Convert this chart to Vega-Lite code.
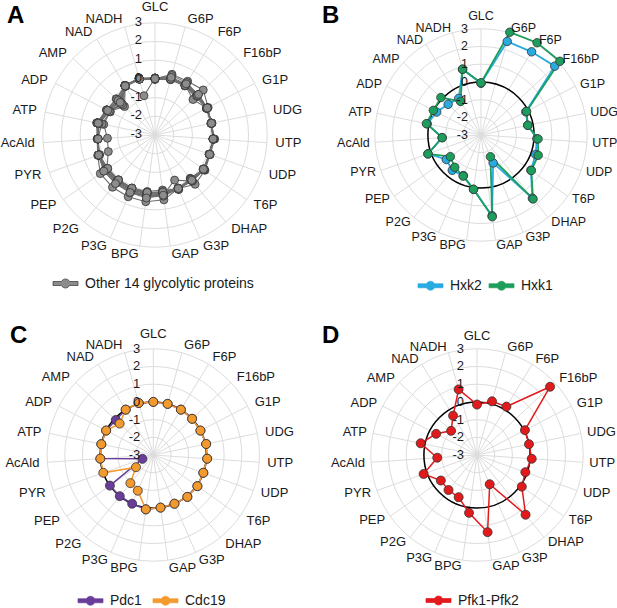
{
"$schema":"https://vega.github.io/schema/vega-lite/v6.json",
"autosize":{"type":"pad"},
"padding":0,
"datasets":{
"mets":[{"m":"GLC"},{"m":"G6P"},{"m":"F6P"},{"m":"F16bP"},{"m":"G1P"},{"m":"UDG"},{"m":"UTP"},{"m":"UDP"},{"m":"T6P"},{"m":"DHAP"},{"m":"G3P"},{"m":"GAP"},{"m":"BPG"},{"m":"P3G"},{"m":"P2G"},{"m":"PEP"},{"m":"PYR"},{"m":"AcAld"},{"m":"ATP"},{"m":"ADP"},{"m":"AMP"},{"m":"NAD"},{"m":"NADH"}],
"grid":[{"level":-3},{"level":-2},{"level":-1},{"level":0},{"level":1},{"level":2},{"level":3}],
"A":[
{"p":"P1","GLC":0.05,"G6P":0.1,"F6P":0.12,"F16bP":0.15,"G1P":0.14,"UDG":0.09,"UTP":0.13,"UDP":0.09,"T6P":0.19,"DHAP":-0.02,"G3P":0.18,"GAP":-0.03,"BPG":0.05,"P3G":0.09,"P2G":0.09,"PEP":0.13,"PYR":0.2,"AcAld":0.07,"ATP":0.18,"ADP":-0.08,"AMP":-0.16,"NAD":0.09,"NADH":0.16},
{"p":"P2","GLC":0,"G6P":0.37,"F6P":0.36,"F16bP":0.53,"G1P":0.2,"UDG":0.05,"UTP":0.2,"UDP":0.13,"T6P":0.27,"DHAP":0.4,"G3P":0.12,"GAP":0.5,"BPG":0.6,"P3G":0.6,"P2G":0.6,"PEP":0.58,"PYR":0.25,"AcAld":0.1,"ATP":0.15,"ADP":-0.1,"AMP":-0.3,"NAD":0.05,"NADH":0.1},
{"p":"P3","GLC":0.03,"G6P":0.12,"F6P":0.1,"F16bP":0.1,"G1P":0.1,"UDG":0.1,"UTP":0.12,"UDP":0.08,"T6P":0.2,"DHAP":0.18,"G3P":-0.37,"GAP":0.24,"BPG":0.3,"P3G":0.37,"P2G":0.3,"PEP":0.34,"PYR":0.2,"AcAld":0.05,"ATP":0.1,"ADP":-0.2,"AMP":-0.35,"NAD":0.1,"NADH":0.12},
{"p":"P4","GLC":-0.02,"G6P":0.08,"F6P":0.08,"F16bP":-0.03,"G1P":0.12,"UDG":0.08,"UTP":0.1,"UDP":0.1,"T6P":0.15,"DHAP":0.03,"G3P":0.1,"GAP":0.1,"BPG":0.1,"P3G":0.15,"P2G":0.15,"PEP":0.15,"PYR":-0.35,"AcAld":-0.45,"ATP":-0.2,"ADP":-0.3,"AMP":-0.55,"NAD":0.08,"NADH":0.15},
{"p":"P5","GLC":0.05,"G6P":0.15,"F6P":0.15,"F16bP":0.12,"G1P":0.15,"UDG":0.09,"UTP":0.13,"UDP":0.09,"T6P":0.19,"DHAP":0.1,"G3P":0.15,"GAP":0.15,"BPG":0.2,"P3G":0.19,"P2G":0.2,"PEP":0.2,"PYR":0.2,"AcAld":0.07,"ATP":0.18,"ADP":-0.1,"AMP":-0.45,"NAD":0.05,"NADH":-0.82},
{"p":"P6","GLC":0.02,"G6P":0.1,"F6P":0.1,"F16bP":0.1,"G1P":0.12,"UDG":0.1,"UTP":0.15,"UDP":0.07,"T6P":0.22,"DHAP":0.15,"G3P":0.12,"GAP":0.2,"BPG":0.25,"P3G":0.25,"P2G":0.25,"PEP":0.25,"PYR":0.18,"AcAld":0.05,"ATP":0.12,"ADP":-0.15,"AMP":-0.6,"NAD":0.1,"NADH":0.12},
{"p":"P7","GLC":0,"G6P":0.3,"F6P":0.28,"F16bP":0.15,"G1P":0.1,"UDG":0.06,"UTP":0.12,"UDP":0.1,"T6P":0.18,"DHAP":0.05,"G3P":0.1,"GAP":0.05,"BPG":0.15,"P3G":0.1,"P2G":0.1,"PEP":0.1,"PYR":0.15,"AcAld":0.08,"ATP":0.05,"ADP":-0.25,"AMP":-0.77,"NAD":0.07,"NADH":0.1},
{"p":"P8","GLC":0.04,"G6P":0.12,"F6P":0.12,"F16bP":-0.22,"G1P":0.13,"UDG":0.09,"UTP":0.1,"UDP":0.09,"T6P":0.2,"DHAP":0.12,"G3P":0.14,"GAP":0.3,"BPG":0.35,"P3G":0.3,"P2G":0.3,"PEP":0.3,"PYR":0.22,"AcAld":0.06,"ATP":0.15,"ADP":-0.1,"AMP":-0.2,"NAD":0.09,"NADH":0.14},
{"p":"P9","GLC":-0.03,"G6P":0.1,"F6P":0.1,"F16bP":0.1,"G1P":0.14,"UDG":0.1,"UTP":0.14,"UDP":0.08,"T6P":0.16,"DHAP":0.1,"G3P":0.12,"GAP":0.1,"BPG":0.1,"P3G":0.12,"P2G":0.12,"PEP":0.12,"PYR":0.2,"AcAld":0.07,"ATP":-0.1,"ADP":-0.3,"AMP":-0.5,"NAD":0.05,"NADH":0.15},
{"p":"P10","GLC":0.05,"G6P":0.14,"F6P":0.14,"F16bP":0.14,"G1P":0.12,"UDG":0.08,"UTP":0.13,"UDP":0.1,"T6P":0.19,"DHAP":0.08,"G3P":0.1,"GAP":0.12,"BPG":0.15,"P3G":0.2,"P2G":0.2,"PEP":0.2,"PYR":0.18,"AcAld":0.05,"ATP":0.12,"ADP":-0.15,"AMP":-0.4,"NAD":0.1,"NADH":0.12},
{"p":"P11","GLC":0.02,"G6P":0.08,"F6P":0.08,"F16bP":0.05,"G1P":0.1,"UDG":0.09,"UTP":0.12,"UDP":0.09,"T6P":0.21,"DHAP":0.15,"G3P":0.13,"GAP":0.2,"BPG":0.2,"P3G":0.15,"P2G":0.15,"PEP":0.15,"PYR":0.2,"AcAld":0.08,"ATP":0.1,"ADP":-0.2,"AMP":-0.65,"NAD":0.08,"NADH":0.1},
{"p":"P12","GLC":0,"G6P":0.12,"F6P":0.12,"F16bP":0.12,"G1P":0.14,"UDG":0.07,"UTP":0.15,"UDP":0.11,"T6P":0.18,"DHAP":0.1,"G3P":0.15,"GAP":0.15,"BPG":0.3,"P3G":0.25,"P2G":0.25,"PEP":0.25,"PYR":0.15,"AcAld":0.06,"ATP":0.15,"ADP":-0.1,"AMP":-0.3,"NAD":0.06,"NADH":0.14},
{"p":"P13","GLC":0.03,"G6P":0.1,"F6P":0.1,"F16bP":0.1,"G1P":0.12,"UDG":0.1,"UTP":0.13,"UDP":0.08,"T6P":0.2,"DHAP":0.05,"G3P":0.11,"GAP":0.08,"BPG":0.1,"P3G":0.1,"P2G":0.1,"PEP":0.1,"PYR":0.2,"AcAld":0.07,"ATP":0.05,"ADP":-0.25,"AMP":-0.55,"NAD":0.1,"NADH":0.12},
{"p":"P14","GLC":0.01,"G6P":0.2,"F6P":0.2,"F16bP":0.18,"G1P":0.15,"UDG":0.08,"UTP":0.11,"UDP":0.1,"T6P":0.17,"DHAP":0.12,"G3P":0.12,"GAP":0.25,"BPG":0.4,"P3G":0.35,"P2G":0.35,"PEP":0.35,"PYR":0.2,"AcAld":0.05,"ATP":0.1,"ADP":-0.15,"AMP":-0.45,"NAD":0.07,"NADH":0.1}
],
"B":[
{"s":"Hxk2","GLC":-0.08,"G6P":2.49,"F6P":2.5,"F16bP":2.7,"G1P":-0.15,"UDG":-0.3,"UTP":0.16,"UDP":0.28,"T6P":0.45,"DHAP":1.6,"G3P":-1.28,"GAP":1.6,"BPG":0.1,"P3G":-0.5,"P2G":-0.43,"PEP":-0.6,"PYR":0.18,"AcAld":-0.8,"ATP":0.1,"ADP":-0.18,"AMP":-0.46,"NAD":-0.58,"NADH":0.86},
{"s":"Hxk1","GLC":-0.05,"G6P":3.03,"F6P":3.1,"F16bP":3.1,"G1P":-0.1,"UDG":-0.3,"UTP":0.23,"UDP":0.43,"T6P":0.48,"DHAP":1.66,"G3P":-1.66,"GAP":1.66,"BPG":0.1,"P3G":-0.47,"P2G":-0.65,"PEP":-0.88,"PYR":0.18,"AcAld":-0.8,"ATP":0.15,"ADP":0.03,"AMP":0.1,"NAD":-0.78,"NADH":0.86}
],
"C":[
{"s":"Pdc1","GLC":0,"G6P":0,"F6P":0,"F16bP":0,"G1P":0,"UDG":0.05,"UTP":0.05,"UDP":0,"T6P":0.05,"DHAP":0.05,"G3P":0,"GAP":0,"BPG":0.1,"P3G":0,"P2G":0,"PEP":0,"PYR":-2.35,"AcAld":0,"ATP":0,"ADP":0,"AMP":-0.1,"NAD":0,"NADH":0.05},
{"s":"Cdc19","GLC":0,"G6P":0,"F6P":0,"F16bP":0,"G1P":0,"UDG":0.05,"UTP":0.05,"UDP":0,"T6P":0.05,"DHAP":0.05,"G3P":0,"GAP":0,"BPG":0.1,"P3G":-0.8,"P2G":-0.95,"PEP":-1.8,"PYR":0,"AcAld":0,"ATP":0,"ADP":0,"AMP":-0.4,"NAD":0,"NADH":0.05}
],
"D":[
{"s":"Pfk1-Pfk2","GLC":-0.15,"G6P":0.15,"F6P":0.2,"F16bP":2.65,"G1P":0.05,"UDG":0,"UTP":0.1,"UDP":-0.1,"T6P":0.1,"DHAP":1.35,"G3P":-1.2,"GAP":1.4,"BPG":0.3,"P3G":-0.4,"P2G":-0.45,"PEP":-0.5,"PYR":0.2,"AcAld":-0.75,"ATP":0.25,"ADP":-0.4,"AMP":-1.0,"NAD":-0.4,"NADH":0.85}
]
},
"vconcat":[
{"hconcat":[
{"title":{"text":"A","dx":7},"width":305,"height":270,
"encoding":{"x":{"field":"x","type":"quantitative","scale":{"domain":[-8.289,8.021],"nice":false,"zero":false},"axis":null},"y":{"field":"y","type":"quantitative","scale":{"domain":[-7.219,7.219],"nice":false,"zero":false},"axis":null}},
"layer":[
{"data":{"name":"grid"},"transform":[{"filter":"datum.level > -3"},{"calculate":"datum.level+3","as":"u"},{"calculate":"0","as":"x"},{"calculate":"0","as":"y"}],"mark":{"type":"point","shape":"circle","filled":false,"stroke":"#dcdcdc","strokeWidth":1,"opacity":1},"encoding":{"size":{"field":"u","type":"quantitative","scale":{"type":"pow","exponent":2,"domain":[0,6],"range":[0,50355]},"legend":null}}},
{"data":{"name":"mets"},"transform":[{"window":[{"op":"row_number","as":"rn"}]},{"calculate":"(datum.rn-1)*2*PI/23","as":"t"},{"calculate":"0","as":"x"},{"calculate":"0","as":"y"},{"calculate":"6*sin(datum.t)","as":"x2"},{"calculate":"6*cos(datum.t)","as":"y2"}],"mark":{"type":"rule","stroke":"#dcdcdc","strokeWidth":1},"encoding":{"x2":{"field":"x2"},"y2":{"field":"y2"}}},
{"data":{"name":"A"},"transform":[{"fold":["GLC","G6P","F6P","F16bP","G1P","UDG","UTP","UDP","T6P","DHAP","G3P","GAP","BPG","P3G","P2G","PEP","PYR","AcAld","ATP","ADP","AMP","NAD","NADH"],"as":["m","v"]},{"calculate":"indexof(['GLC','G6P','F6P','F16bP','G1P','UDG','UTP','UDP','T6P','DHAP','G3P','GAP','BPG','P3G','P2G','PEP','PYR','AcAld','ATP','ADP','AMP','NAD','NADH'], datum.m)","as":"i"},{"calculate":"(datum.v+3)*sin(datum.i*2*PI/23)","as":"x"},{"calculate":"(datum.v+3)*cos(datum.i*2*PI/23)","as":"y"}],
"layer":[
{"mark":{"type":"line","interpolate":"linear-closed","strokeWidth":1.1,"color":"#6e6e6e"},"encoding":{"detail":{"field":"p"},"order":{"field":"i","type":"quantitative"}}},
{"mark":{"type":"point","shape":"circle","filled":true,"size":64,"stroke":"#333","strokeWidth":0.8,"opacity":1},"encoding":{"color":{"datum":"Other 14 glycolytic proteins","type":"nominal","scale":{"range":["#8c8c8c"]},"legend":{"orient":"none","legendX":55,"legendY":273}}}}
]},
{"data":{"name":"mets"},"transform":[{"window":[{"op":"row_number","as":"rn"}]},{"calculate":"(datum.rn-1)*2*PI/23","as":"t"},{"calculate":"6.45*sin(datum.t)","as":"x"},{"calculate":"6.45*cos(datum.t)","as":"y"}],
"layer":[
{"transform":[{"filter":"sin(datum.t) > 0.05"}],"mark":{"type":"text","align":"left","baseline":"middle","fontSize":13,"font":"Liberation Sans","color":"#1a1a1a"},"encoding":{"text":{"field":"m"}}},
{"transform":[{"filter":"sin(datum.t) < -0.05"}],"mark":{"type":"text","align":"right","baseline":"middle","fontSize":13,"font":"Liberation Sans","color":"#1a1a1a"},"encoding":{"text":{"field":"m"}}},
{"transform":[{"filter":"abs(sin(datum.t)) <= 0.05"}],"mark":{"type":"text","align":"center","baseline":"bottom","fontSize":13,"font":"Liberation Sans","color":"#1a1a1a"},"encoding":{"text":{"field":"m"}}}
]},
{"data":{"name":"grid"},"transform":[{"calculate":"datum.level+3","as":"y"},{"calculate":"0","as":"x"}],"mark":{"type":"text","align":"right","baseline":"middle","dx":-13,"dy":-1,"fontSize":13,"font":"Liberation Sans","color":"#1a1a1a"},"encoding":{"text":{"field":"level","type":"nominal"}}}
]},
{"title":{"text":"B","dx":-4},"width":295,"height":270,
"encoding":{"x":{"field":"x","type":"quantitative","scale":{"domain":[-8.757,7.910],"nice":false,"zero":false},"axis":null},"y":{"field":"y","type":"quantitative","scale":{"domain":[-7.627,7.627],"nice":false,"zero":false},"axis":null}},
"layer":[
{"data":{"name":"grid"},"transform":[{"filter":"datum.level > -3"},{"calculate":"datum.level+3","as":"u"},{"calculate":"0","as":"x"},{"calculate":"0","as":"y"}],"mark":{"type":"point","shape":"circle","filled":false,"stroke":"#dcdcdc","strokeWidth":1,"opacity":1},"encoding":{"size":{"field":"u","type":"quantitative","scale":{"type":"pow","exponent":2,"domain":[0,6],"range":[0,45114]},"legend":null}}},
{"data":{"name":"mets"},"transform":[{"window":[{"op":"row_number","as":"rn"}]},{"calculate":"(datum.rn-1)*2*PI/23","as":"t"},{"calculate":"0","as":"x"},{"calculate":"0","as":"y"},{"calculate":"6*sin(datum.t)","as":"x2"},{"calculate":"6*cos(datum.t)","as":"y2"}],"mark":{"type":"rule","stroke":"#dcdcdc","strokeWidth":1},"encoding":{"x2":{"field":"x2"},"y2":{"field":"y2"}}},
{"data":{"values":[{"level":0}]},"transform":[{"calculate":"datum.level+3","as":"u"},{"calculate":"0","as":"x"},{"calculate":"0","as":"y"}],"mark":{"type":"point","shape":"circle","filled":false,"stroke":"#000","strokeWidth":1.5,"opacity":1},"encoding":{"size":{"field":"u","type":"quantitative","scale":{"type":"pow","exponent":2,"domain":[0,6],"range":[0,45114]},"legend":null}}},
{"data":{"name":"B"},"transform":[{"fold":["GLC","G6P","F6P","F16bP","G1P","UDG","UTP","UDP","T6P","DHAP","G3P","GAP","BPG","P3G","P2G","PEP","PYR","AcAld","ATP","ADP","AMP","NAD","NADH"],"as":["m","v"]},{"calculate":"indexof(['GLC','G6P','F6P','F16bP','G1P','UDG','UTP','UDP','T6P','DHAP','G3P','GAP','BPG','P3G','P2G','PEP','PYR','AcAld','ATP','ADP','AMP','NAD','NADH'], datum.m)","as":"i"},{"calculate":"(datum.v+3)*sin(datum.i*2*PI/23)","as":"x"},{"calculate":"(datum.v+3)*cos(datum.i*2*PI/23)","as":"y"}],
"layer":[
{"mark":{"type":"line","interpolate":"linear-closed","strokeWidth":1.8},"encoding":{"color":{"field":"s","type":"nominal","scale":{"domain":["Hxk2","Hxk1"],"range":["#29ABE2","#1E9E5C"]},"legend":{"orient":"none","legendX":94,"legendY":275,"columnPadding":5}},"order":{"field":"i","type":"quantitative"}}},
{"mark":{"type":"point","shape":"circle","filled":true,"size":72,"stroke":"#333","strokeWidth":0.8,"opacity":1},"encoding":{"color":{"field":"s","type":"nominal","scale":{"domain":["Hxk2","Hxk1"],"range":["#29ABE2","#1E9E5C"]},"legend":{"orient":"none","legendX":94,"legendY":275,"columnPadding":5}}}}
]},
{"data":{"name":"mets"},"transform":[{"window":[{"op":"row_number","as":"rn"}]},{"calculate":"(datum.rn-1)*2*PI/23","as":"t"},{"calculate":"6.3*sin(datum.t)","as":"x"},{"calculate":"6.3*cos(datum.t)","as":"y"}],
"layer":[
{"transform":[{"filter":"sin(datum.t) > 0.05"}],"mark":{"type":"text","align":"left","baseline":"middle","fontSize":12.5,"font":"Liberation Sans","color":"#1a1a1a"},"encoding":{"text":{"field":"m"}}},
{"transform":[{"filter":"sin(datum.t) < -0.05"}],"mark":{"type":"text","align":"right","baseline":"middle","fontSize":12.5,"font":"Liberation Sans","color":"#1a1a1a"},"encoding":{"text":{"field":"m"}}},
{"transform":[{"filter":"abs(sin(datum.t)) <= 0.05"}],"mark":{"type":"text","align":"center","baseline":"bottom","fontSize":12.5,"font":"Liberation Sans","color":"#1a1a1a"},"encoding":{"text":{"field":"m"}}}
]},
{"data":{"name":"grid"},"transform":[{"calculate":"datum.level+3","as":"y"},{"calculate":"0","as":"x"}],"mark":{"type":"text","align":"right","baseline":"middle","dx":-13,"fontSize":12.5,"font":"Liberation Sans","color":"#1a1a1a"},"encoding":{"text":{"field":"level","type":"nominal"}}}
]}
],"spacing":17,"resolve":{"scale":{"color":"independent","size":"independent","x":"independent","y":"independent"},"legend":{"color":"independent"}}},
{"hconcat":[
{"title":{"text":"C","dx":10},"width":305,"height":270,
"encoding":{"x":{"field":"x","type":"quantitative","scale":{"domain":[-8.661,8.571],"nice":false,"zero":false},"axis":null},"y":{"field":"y","type":"quantitative","scale":{"domain":[-7.627,7.627],"nice":false,"zero":false},"axis":null}},
"layer":[
{"data":{"name":"grid"},"transform":[{"filter":"datum.level > -3"},{"calculate":"datum.level+3","as":"u"},{"calculate":"0","as":"x"},{"calculate":"0","as":"y"}],"mark":{"type":"point","shape":"circle","filled":false,"stroke":"#dcdcdc","strokeWidth":1,"opacity":1},"encoding":{"size":{"field":"u","type":"quantitative","scale":{"type":"pow","exponent":2,"domain":[0,6],"range":[0,45114]},"legend":null}}},
{"data":{"name":"mets"},"transform":[{"window":[{"op":"row_number","as":"rn"}]},{"calculate":"(datum.rn-1)*2*PI/23","as":"t"},{"calculate":"0","as":"x"},{"calculate":"0","as":"y"},{"calculate":"6*sin(datum.t)","as":"x2"},{"calculate":"6*cos(datum.t)","as":"y2"}],"mark":{"type":"rule","stroke":"#dcdcdc","strokeWidth":1},"encoding":{"x2":{"field":"x2"},"y2":{"field":"y2"}}},
{"data":{"values":[{"level":0}]},"transform":[{"calculate":"datum.level+3","as":"u"},{"calculate":"0","as":"x"},{"calculate":"0","as":"y"}],"mark":{"type":"point","shape":"circle","filled":false,"stroke":"#000","strokeWidth":1.5,"opacity":1},"encoding":{"size":{"field":"u","type":"quantitative","scale":{"type":"pow","exponent":2,"domain":[0,6],"range":[0,45114]},"legend":null}}},
{"data":{"name":"C"},"transform":[{"fold":["GLC","G6P","F6P","F16bP","G1P","UDG","UTP","UDP","T6P","DHAP","G3P","GAP","BPG","P3G","P2G","PEP","PYR","AcAld","ATP","ADP","AMP","NAD","NADH"],"as":["m","v"]},{"calculate":"indexof(['GLC','G6P','F6P','F16bP','G1P','UDG','UTP','UDP','T6P','DHAP','G3P','GAP','BPG','P3G','P2G','PEP','PYR','AcAld','ATP','ADP','AMP','NAD','NADH'], datum.m)","as":"i"},{"calculate":"(datum.v+3)*sin(datum.i*2*PI/23)","as":"x"},{"calculate":"(datum.v+3)*cos(datum.i*2*PI/23)","as":"y"}],
"layer":[
{"mark":{"type":"line","interpolate":"linear-closed","strokeWidth":1.5},"encoding":{"color":{"field":"s","type":"nominal","scale":{"domain":["Pdc1","Cdc19"],"range":["#6A3D9A","#F39A2E"]},"legend":{"orient":"none","legendX":80,"legendY":270,"columnPadding":9}},"order":{"field":"i","type":"quantitative"}}},
{"mark":{"type":"point","shape":"circle","filled":true,"size":81,"stroke":"#333","strokeWidth":0.8,"opacity":1},"encoding":{"color":{"field":"s","type":"nominal","scale":{"domain":["Pdc1","Cdc19"],"range":["#6A3D9A","#F39A2E"]},"legend":{"orient":"none","legendX":80,"legendY":270,"columnPadding":9}}}}
]},
{"data":{"name":"mets"},"transform":[{"window":[{"op":"row_number","as":"rn"}]},{"calculate":"(datum.rn-1)*2*PI/23","as":"t"},{"calculate":"6.45*sin(datum.t)","as":"x"},{"calculate":"6.45*cos(datum.t)","as":"y"}],
"layer":[
{"transform":[{"filter":"sin(datum.t) > 0.05"}],"mark":{"type":"text","align":"left","baseline":"middle","fontSize":13,"font":"Liberation Sans","color":"#1a1a1a"},"encoding":{"text":{"field":"m"}}},
{"transform":[{"filter":"sin(datum.t) < -0.05"}],"mark":{"type":"text","align":"right","baseline":"middle","fontSize":13,"font":"Liberation Sans","color":"#1a1a1a"},"encoding":{"text":{"field":"m"}}},
{"transform":[{"filter":"abs(sin(datum.t)) <= 0.05"}],"mark":{"type":"text","align":"center","baseline":"bottom","fontSize":13,"font":"Liberation Sans","color":"#1a1a1a"},"encoding":{"text":{"field":"m"}}}
]},
{"data":{"name":"grid"},"transform":[{"calculate":"datum.level+3","as":"y"},{"calculate":"0","as":"x"}],"mark":{"type":"text","align":"right","baseline":"middle","dx":-13,"fontSize":13,"font":"Liberation Sans","color":"#1a1a1a"},"encoding":{"text":{"field":"level","type":"nominal"}}}
]},
{"title":{"text":"D","dx":0},"width":295,"height":270,
"encoding":{"x":{"field":"x","type":"quantitative","scale":{"domain":[-8.757,7.910],"nice":false,"zero":false},"axis":null},"y":{"field":"y","type":"quantitative","scale":{"domain":[-7.627,7.627],"nice":false,"zero":false},"axis":null}},
"layer":[
{"data":{"name":"grid"},"transform":[{"filter":"datum.level > -3"},{"calculate":"datum.level+3","as":"u"},{"calculate":"0","as":"x"},{"calculate":"0","as":"y"}],"mark":{"type":"point","shape":"circle","filled":false,"stroke":"#dcdcdc","strokeWidth":1,"opacity":1},"encoding":{"size":{"field":"u","type":"quantitative","scale":{"type":"pow","exponent":2,"domain":[0,6],"range":[0,45114]},"legend":null}}},
{"data":{"name":"mets"},"transform":[{"window":[{"op":"row_number","as":"rn"}]},{"calculate":"(datum.rn-1)*2*PI/23","as":"t"},{"calculate":"0","as":"x"},{"calculate":"0","as":"y"},{"calculate":"6*sin(datum.t)","as":"x2"},{"calculate":"6*cos(datum.t)","as":"y2"}],"mark":{"type":"rule","stroke":"#dcdcdc","strokeWidth":1},"encoding":{"x2":{"field":"x2"},"y2":{"field":"y2"}}},
{"data":{"values":[{"level":0}]},"transform":[{"calculate":"datum.level+3","as":"u"},{"calculate":"0","as":"x"},{"calculate":"0","as":"y"}],"mark":{"type":"point","shape":"circle","filled":false,"stroke":"#000","strokeWidth":1.5,"opacity":1},"encoding":{"size":{"field":"u","type":"quantitative","scale":{"type":"pow","exponent":2,"domain":[0,6],"range":[0,45114]},"legend":null}}},
{"data":{"name":"D"},"transform":[{"fold":["GLC","G6P","F6P","F16bP","G1P","UDG","UTP","UDP","T6P","DHAP","G3P","GAP","BPG","P3G","P2G","PEP","PYR","AcAld","ATP","ADP","AMP","NAD","NADH"],"as":["m","v"]},{"calculate":"indexof(['GLC','G6P','F6P','F16bP','G1P','UDG','UTP','UDP','T6P','DHAP','G3P','GAP','BPG','P3G','P2G','PEP','PYR','AcAld','ATP','ADP','AMP','NAD','NADH'], datum.m)","as":"i"},{"calculate":"(datum.v+3)*sin(datum.i*2*PI/23)","as":"x"},{"calculate":"(datum.v+3)*cos(datum.i*2*PI/23)","as":"y"}],
"layer":[
{"mark":{"type":"line","interpolate":"linear-closed","strokeWidth":1.5},"encoding":{"color":{"field":"s","type":"nominal","scale":{"domain":["Pfk1-Pfk2"],"range":["#E31A1C"]},"legend":{"orient":"none","legendX":106,"legendY":270}},"order":{"field":"i","type":"quantitative"}}},
{"mark":{"type":"point","shape":"circle","filled":true,"size":81,"stroke":"#333","strokeWidth":0.8,"opacity":1},"encoding":{"color":{"field":"s","type":"nominal","scale":{"domain":["Pfk1-Pfk2"],"range":["#E31A1C"]},"legend":{"orient":"none","legendX":106,"legendY":270}}}}
]},
{"data":{"name":"mets"},"transform":[{"window":[{"op":"row_number","as":"rn"}]},{"calculate":"(datum.rn-1)*2*PI/23","as":"t"},{"calculate":"6.35*sin(datum.t)","as":"x"},{"calculate":"6.35*cos(datum.t)","as":"y"}],
"layer":[
{"transform":[{"filter":"sin(datum.t) > 0.05"}],"mark":{"type":"text","align":"left","baseline":"middle","fontSize":13,"font":"Liberation Sans","color":"#1a1a1a"},"encoding":{"text":{"field":"m"}}},
{"transform":[{"filter":"sin(datum.t) < -0.05"}],"mark":{"type":"text","align":"right","baseline":"middle","fontSize":13,"font":"Liberation Sans","color":"#1a1a1a"},"encoding":{"text":{"field":"m"}}},
{"transform":[{"filter":"abs(sin(datum.t)) <= 0.05"}],"mark":{"type":"text","align":"center","baseline":"bottom","fontSize":13,"font":"Liberation Sans","color":"#1a1a1a"},"encoding":{"text":{"field":"m"}}}
]},
{"data":{"name":"grid"},"transform":[{"calculate":"datum.level+3","as":"y"},{"calculate":"0","as":"x"}],"mark":{"type":"text","align":"right","baseline":"middle","dx":-13,"fontSize":13,"font":"Liberation Sans","color":"#1a1a1a"},"encoding":{"text":{"field":"level","type":"nominal"}}}
]}
],"spacing":17,"resolve":{"scale":{"color":"independent","size":"independent","x":"independent","y":"independent"},"legend":{"color":"independent"}}}
],
"spacing":27,
"resolve":{"scale":{"color":"independent","size":"independent","x":"independent","y":"independent"},"legend":{"color":"independent"}},
"config":{
"view":{"stroke":null},
"font":"Liberation Sans",
"title":{"anchor":"start","frame":"group","fontSize":24,"fontWeight":"bold","font":"Liberation Sans","offset":-28,"color":"#000"},
"legend":{"title":null,"direction":"horizontal","labelFontSize":14,"labelLimit":400,"labelFont":"Liberation Sans","labelColor":"#1a1a1a","symbolType":"M-1.25,-0.2H-0.403A0.45,0.45,0,0,1,0.403,-0.2H1.25V0.2H0.403A0.45,0.45,0,0,1,-0.403,0.2H-1.25Z","symbolSize":400,"symbolStrokeColor":"#333","symbolStrokeWidth":0.7,"labelOffset":9,"columnPadding":14}
}
}
